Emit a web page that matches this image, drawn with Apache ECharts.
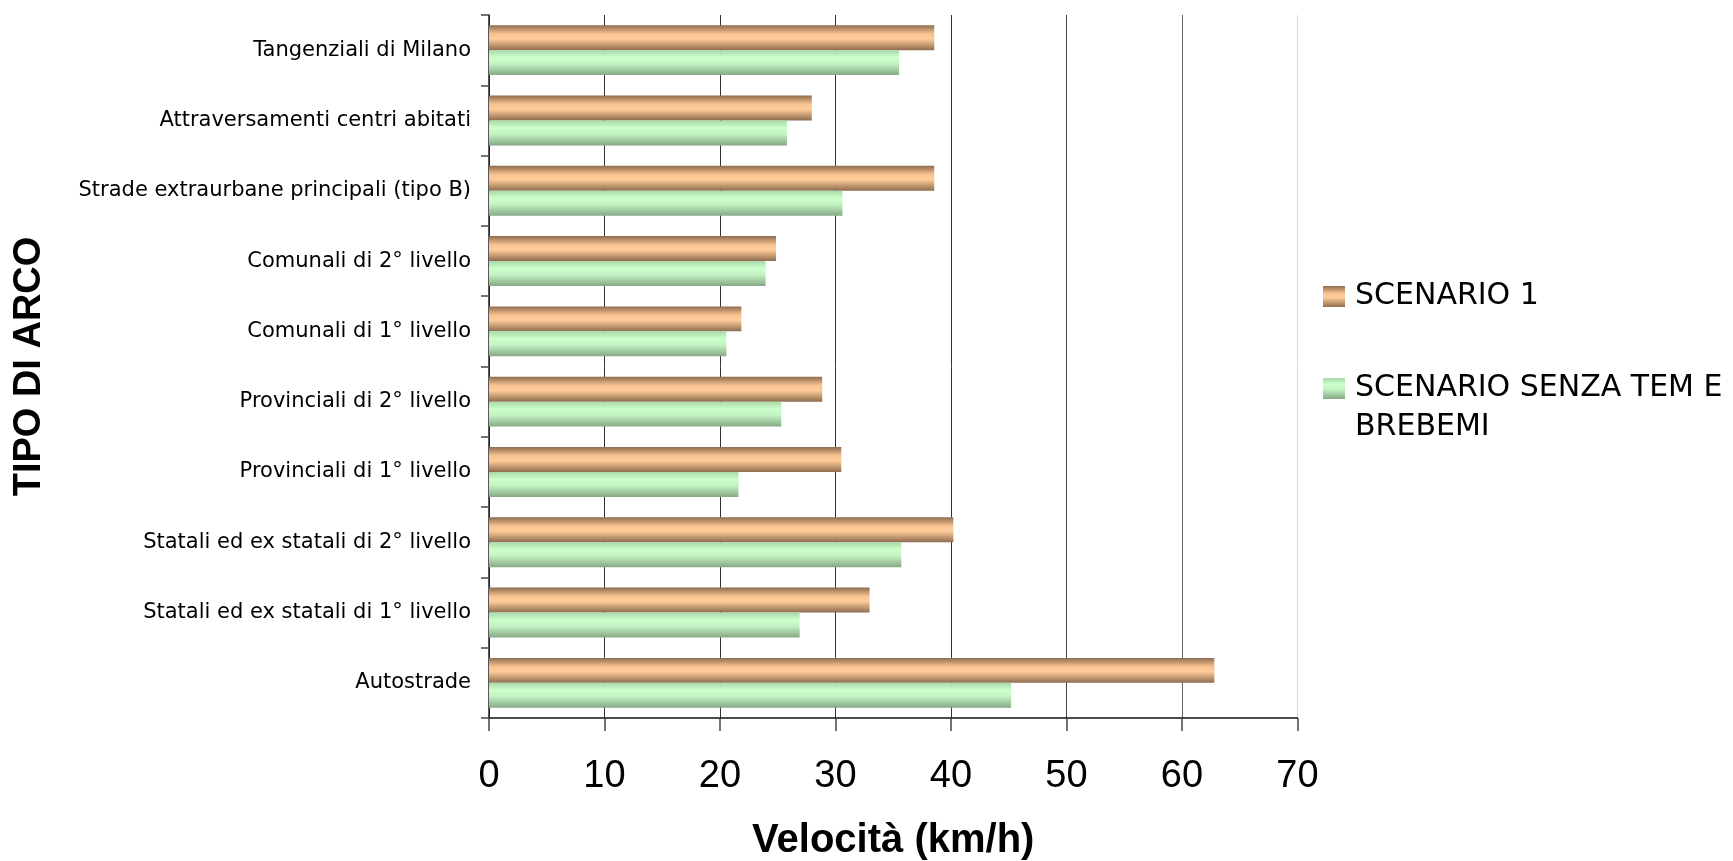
<!DOCTYPE html>
<html>
<head>
<meta charset="utf-8">
<script src="https://cdn.jsdelivr.net/npm/echarts@6/dist/echarts.min.js"></script>
<style>
html,body{margin:0;padding:0;background:#fff;}
#chart{width:1733px;height:861px;}
</style>
</head>
<body>
<div id="chart"></div>
<script>
const categories = [
  'Tangenziali di Milano',
  'Attraversamenti centri abitati',
  'Strade extraurbane principali (tipo B)',
  'Comunali di 2° livello',
  'Comunali di 1° livello',
  'Provinciali di 2° livello',
  'Provinciali di 1° livello',
  'Statali ed ex statali di 2° livello',
  'Statali ed ex statali di 1° livello',
  'Autostrade'
];
const scenario1 = [38.55, 27.95, 38.55, 24.85, 21.85, 28.85, 30.5, 40.2, 32.95, 62.8];
const scenarioSenza = [35.5, 25.8, 30.6, 23.95, 20.55, 25.3, 21.6, 35.7, 26.9, 45.2];
const seriesNames = ['SCENARIO 1', 'SCENARIO SENZA TEM E\nBREBEMI'];
const xTicks = [0, 10, 20, 30, 40, 50, 60, 70];

const chart = echarts.init(document.getElementById('chart'), null, {renderer: 'canvas'});

const orangeGrad = new echarts.graphic.LinearGradient(0, 0, 0, 1, [
  {offset: 0, color: '#8e6c4f'},
  {offset: 0.35, color: '#f9c391'},
  {offset: 0.55, color: '#ffcc99'},
  {offset: 1, color: '#8e6c4f'}
]);
const greenGrad = new echarts.graphic.LinearGradient(0, 0, 0, 1, [
  {offset: 0, color: '#a9d8a9'},
  {offset: 0.3, color: '#ccffcc'},
  {offset: 0.55, color: '#c2f2c2'},
  {offset: 1, color: '#86a886'}
]);

chart.setOption({
  animation: false,
  backgroundColor: '#fff',
  grid: {left: 489, top: 15, width: 808.5, height: 703, containLabel: false, outerBoundsMode: 'none'},
  legend: {
    orient: 'vertical',
    left: 1323,
    top: 277,
    padding: 0,
    itemWidth: 22,
    itemHeight: 21,
    itemGap: 14,
    icon: 'rect',
    formatter: function (name) { return name.indexOf('\n') >= 0 ? '\n' + name : name; },
    textStyle: {fontFamily: 'DejaVu Sans', fontSize: 30, color: '#000', lineHeight: 39, padding: [0, 0, 0, 5]},
    data: seriesNames
  },
  xAxis: {
    type: 'value',
    min: 0,
    max: 70,
    interval: 10,
    name: 'Velocità (km/h)',
    nameLocation: 'middle',
    nameGap: 103,
    nameTextStyle: {fontFamily: 'Liberation Sans, Arial', fontWeight: 'bold', fontSize: 40, color: '#000'},
    axisLine: {show: true, lineStyle: {color: '#111', width: 1.5}},
    axisTick: {show: true, length: 13, inside: false, lineStyle: {color: '#444', width: 1.5}},
    axisLabel: {
      margin: 40,
      fontFamily: 'Liberation Sans, Arial',
      fontSize: 38,
      color: '#000',
      formatter: function (v) { return xTicks.indexOf(v) >= 0 ? String(v) : ''; }
    },
    splitLine: {show: true, lineStyle: {color: ['#333', '#333', '#333', '#333', '#333', '#444', '#666', '#d9d9d9'], width: 1}}
  },
  yAxis: {
    type: 'category',
    data: categories,
    inverse: true,
    name: 'TIPO DI ARCO',
    nameLocation: 'middle',
    nameGap: 440,
    nameRotate: 90,
    nameTextStyle: {fontFamily: 'Liberation Sans, Arial', fontWeight: 'bold', fontSize: 38, color: '#000'},
    axisLine: {show: true, lineStyle: {color: '#222', width: 1.5}},
    axisTick: {show: true, length: 8, inside: false, lineStyle: {color: '#444', width: 1.5}},
    axisLabel: {margin: 18, fontFamily: 'DejaVu Sans', fontSize: 21, color: '#000'},
    splitLine: {show: false}
  },
  series: [
    {
      name: seriesNames[0],
      type: 'bar',
      data: scenario1,
      barGap: '0%',
      barCategoryGap: '29%',
      itemStyle: {color: orangeGrad}
    },
    {
      name: seriesNames[1],
      type: 'bar',
      data: scenarioSenza,
      barGap: '0%',
      barCategoryGap: '29%',
      itemStyle: {color: greenGrad}
    }
  ]
});
</script>
</body>
</html>
